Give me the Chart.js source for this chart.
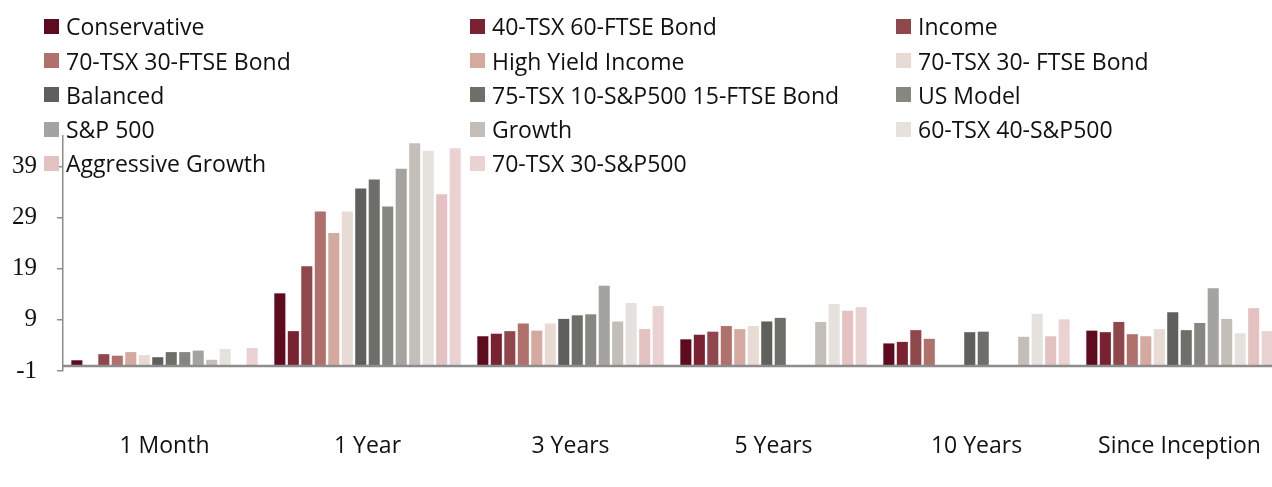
<!DOCTYPE html>
<html>
<head>
<meta charset="utf-8">
<script src="https://cdn.jsdelivr.net/npm/chart.js@4.4.1/dist/chart.umd.min.js"></script>
<style>
  html, body { margin: 0; padding: 0; background: #fff; overflow: hidden; }
  #wrap { position: relative; width: 1272px; height: 487px; overflow: hidden; }
  #chart { position: absolute; left: 0; top: 0; }
  #legend { position: absolute; left: 0; top: 0; width: 1272px; height: 190px;
    font-family: "Open Sans", "Noto Sans", sans-serif; font-size: 23px; color: #111; }
  .item { position: absolute; display: flex; align-items: center; white-space: nowrap; height: 26px; line-height: 26px; }
  .sw { width: 15px; height: 15px; margin-right: 7px; flex: none; }
</style>
</head>
<body>
<div id="wrap">
  <canvas id="chart" width="1281" height="487"></canvas>
  <div id="legend"></div>
</div>
<script>
// categories and y ticks
const categories = ["1 Month", "1 Year", "3 Years", "5 Years", "10 Years", "Since Inception"];
const yTicks = [-1, 9, 19, 29, 39];

// series values (null = no bar)
const conservative     = [1.1, 14.2, 5.8, 5.2, 4.4, 6.9];
const tsx40Ftse60      = [0.1, 6.8, 6.3, 6.1, 4.7, 6.6];
const income           = [2.3, 19.5, 6.8, 6.7, 7.0, 8.6];
const tsx70Ftse30      = [2.0, 30.2, 8.3, 7.8, 5.3, 6.2];
const highYieldIncome  = [2.7, 26.0, 6.9, 7.2, null, 5.8];
const tsx70Ftse30b     = [2.1, 30.2, 8.3, 7.8, null, 7.2];
const balanced         = [1.7, 34.7, 9.2, 8.7, 6.6, 10.5];
const tsx75Sp10Ftse15  = [2.7, 36.5, 9.9, 9.4, 6.7, 7.0];
const usModel          = [2.7, 31.2, 10.1, null, null, 8.4];
const sp500            = [3.0, 38.6, 15.7, null, null, 15.2];
const growth           = [1.2, 43.6, 8.7, 8.6, 5.7, 9.2];
const tsx60Sp40        = [3.3, 42.1, 12.3, 12.1, 10.2, 6.4];
const aggressiveGrowth = [null, 33.6, 7.2, 10.8, 5.8, 11.3];
const tsx70Sp30        = [3.5, 42.6, 11.7, 11.5, 9.1, 6.8];

const seriesNames = [
  "Conservative", "40-TSX 60-FTSE Bond", "Income",
  "70-TSX 30-FTSE Bond", "High Yield Income", "70-TSX 30- FTSE Bond",
  "Balanced", "75-TSX 10-S&P500 15-FTSE Bond", "US Model",
  "S&P 500", "Growth", "60-TSX 40-S&P500",
  "Aggressive Growth", "70-TSX 30-S&P500"
];
const seriesValues = [
  conservative, tsx40Ftse60, income,
  tsx70Ftse30, highYieldIncome, tsx70Ftse30b,
  balanced, tsx75Sp10Ftse15, usModel,
  sp500, growth, tsx60Sp40,
  aggressiveGrowth, tsx70Sp30
];
const seriesColors = [
  "#5e0a1f", "#7a2231", "#8f474b",
  "#b0716d", "#d4a99f", "#e8dbd4",
  "#5f605c", "#6f6f6a", "#878782",
  "#a4a39f", "#c3bfb8", "#e5e2dd",
  "#e4c2c2", "#ead1d2"
];

// legend: 3 columns, overlaid on the plot like the original
const legendEl = document.getElementById("legend");
const rowCenters = [26, 60.5, 94.5, 129, 163.3];
seriesNames.forEach((name, i) => {
  const item = document.createElement("div");
  item.className = "item";
  item.style.left = (44 + (i % 3) * 426) + "px";
  item.style.top = (rowCenters[Math.floor(i / 3)] - 13) + "px";
  const sw = document.createElement("span");
  sw.className = "sw";
  sw.style.background = seriesColors[i];
  const label = document.createElement("span");
  label.textContent = name;
  item.appendChild(sw);
  item.appendChild(label);
  legendEl.appendChild(item);
});

// horizontal axis line sits at 0, not at the bottom of the scale
const zeroLine = {
  id: "zeroLine",
  afterDatasetsDraw(chart) {
    const {ctx, chartArea, scales} = chart;
    const y = scales.y.getPixelForValue(0);
    ctx.save();
    ctx.strokeStyle = "#8c8c8c";
    ctx.lineWidth = 2.5;
    ctx.beginPath();
    ctx.moveTo(chartArea.left, y);
    ctx.lineTo(chartArea.right, y);
    ctx.stroke();
    ctx.restore();
  }
};

new Chart(document.getElementById("chart"), {
  type: "bar",
  data: {
    labels: categories,
    datasets: seriesNames.map((name, i) => ({
      label: name,
      data: seriesValues[i],
      backgroundColor: seriesColors[i],
      borderWidth: 0,
      categoryPercentage: 0.93,
      barPercentage: 0.82,
    })),
  },
  options: {
    responsive: false,
    animation: false,
    devicePixelRatio: 1,
    layout: {padding: {top: 136, left: 0, right: 0, bottom: 0}},
    plugins: {
      legend: {display: false},
      tooltip: {enabled: false},
    },
    scales: {
      x: {
        grid: {display: false},
        border: {display: false},
        ticks: {
          color: "#111",
          font: {family: "Open Sans", size: 23},
          padding: 54,
          maxRotation: 0,
          autoSkip: false,
        },
        afterFit: s => {
          s.height = 116;
          s.paddingLeft = 0;
          s.paddingRight = 0;
        },
      },
      y: {
        min: -1,
        max: 45,
        afterBuildTicks: s => { s.ticks = yTicks.map(v => ({value: v})); },
        grid: {drawOnChartArea: false, drawTicks: true, tickLength: 6, color: "#8c8c8c", lineWidth: 1.5},
        border: {color: "#8c8c8c", width: 1.5},
        ticks: {
          color: "#111",
          font: {family: "Liberation Serif", size: 25},
          padding: 20,
        },
        afterFit: s => {
          s.width = 63;
          s.paddingTop = 0;
          s.paddingBottom = 0;
        },
      },
    },
  },
  plugins: [zeroLine],
});
</script>
</body>
</html>
